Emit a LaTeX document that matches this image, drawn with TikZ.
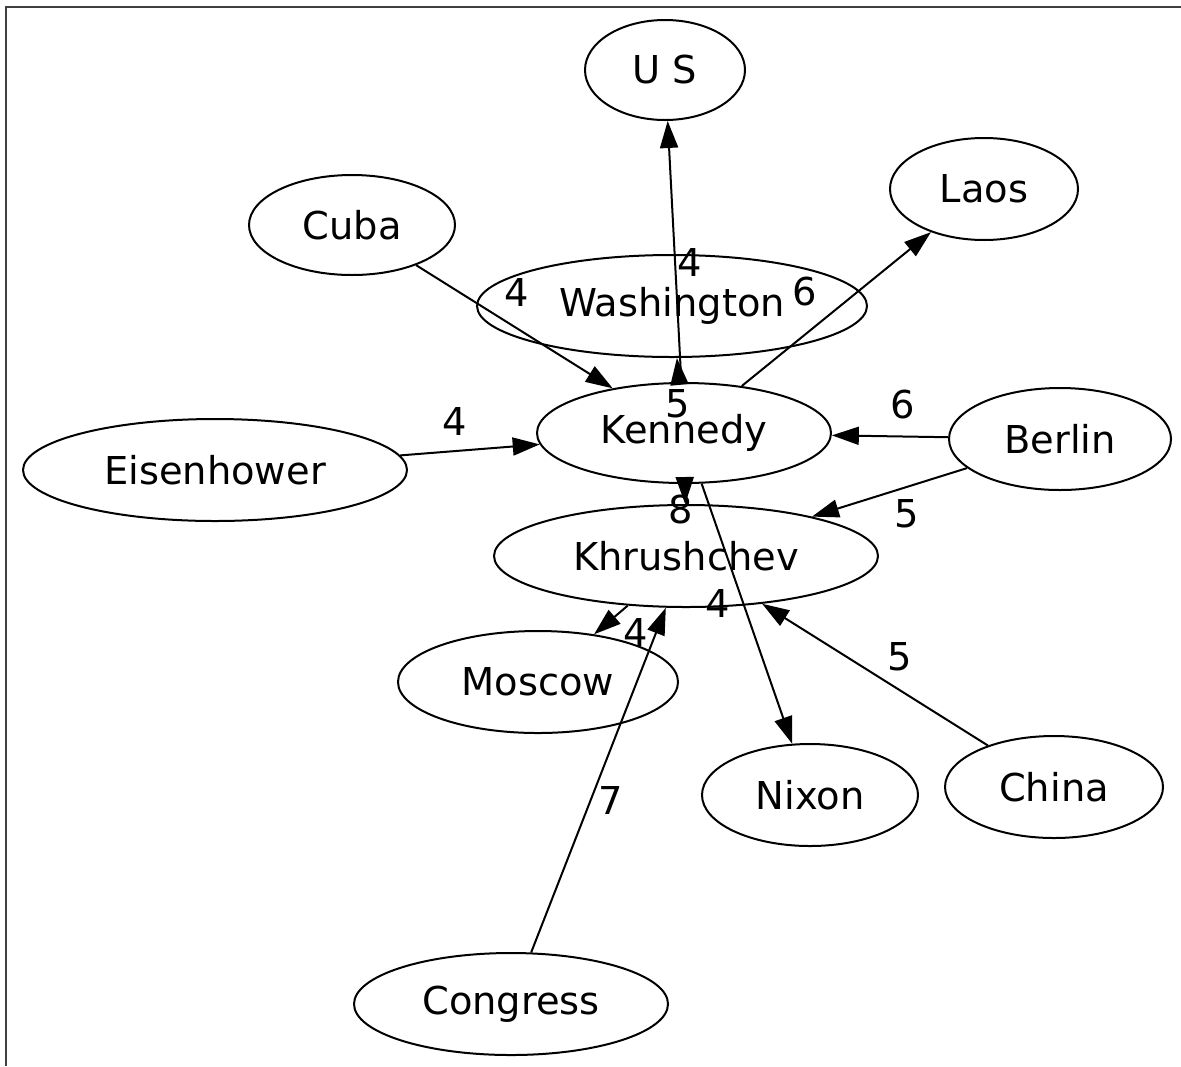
\documentclass[tikz,border=0pt]{standalone}
\usepackage{fontspec}
\setmainfont{DejaVu Sans}
\usetikzlibrary{shapes.geometric,arrows.meta}
\begin{document}
\begin{tikzpicture}[x=0.5pt,y=-0.5pt,
  ell/.style 2 args={ellipse,draw,line width=1pt,inner sep=0pt,
    minimum width=#1*1pt,minimum height=#2*1pt,font=\fontsize{19.2}{21}\selectfont},
  lbl/.style={inner sep=0pt,font=\fontsize{19.2}{21}\selectfont},
  edge/.style={draw,line width=1pt,-{Triangle[length=13.5pt,width=9pt]}}]
\useasboundingbox (0,0) rectangle (1181,1066);
\draw[line width=1.1pt,black!75] (6,1066) -- (6,7) -- (1181,7);
% nodes
\node[ell={80}{50}] (us) at (665,70) {U S};
\node[ell={94}{51}] (laos) at (984,189) {Laos};
\node[ell={103}{50}] (cuba) at (352,225) {Cuba};
\node[ell={195}{51}] (wash) at (672,306) {Washington};
\node[ell={147}{50}] (ken) at (684,433) {Kennedy};
\node[ell={111}{51}] (berlin) at (1060,439) {Berlin};
\node[ell={192}{51}] (eis) at (215,470) {Eisenhower};
\node[ell={192}{51}] (khr) at (686,556) {Khrushchev};
\node[ell={140}{51}] (mos) at (538,682) {Moscow};
\node[ell={108}{51}] (nix) at (810,795) {Nixon};
\node[ell={109}{51}] (china) at (1054,787) {China};
\node[ell={157}{51}] (cong) at (511,1004) {Congress};
% edges
\path[edge] (cuba) -- (ken);
\path[edge] (ken) -- (us);
\path[edge] (ken) -- (wash);
\path[edge] (ken) -- (laos);
\path[edge] (eis) -- (ken);
\path[edge] (berlin) -- (ken);
\path[edge] (ken) -- (khr);
\path[edge] (berlin) -- (khr);
\path[edge] (ken) -- (nix);
\path[edge] (khr) -- (mos);
\path[edge] (china) -- (khr);
\path[edge] (cong) -- (khr);
% labels
\node[lbl] (l1) at (517,292) {4};
\node[lbl] (l2) at (690,262) {4};
\node[lbl] (l3) at (678,404) {5};
\node[lbl] (l4) at (805,292) {6};
\node[lbl] (l5) at (455,421) {4};
\node[lbl] (l6) at (903,405) {6};
\node[lbl] (l7) at (681,510) {8};
\node[lbl] (l8) at (907,514) {5};
\node[lbl] (l9) at (718,603) {4};
\node[lbl] (l10) at (636,632) {4};
\node[lbl] (l11) at (900,657) {5};
\node[lbl] (l12) at (611,800) {7};
\end{tikzpicture}
\end{document}
